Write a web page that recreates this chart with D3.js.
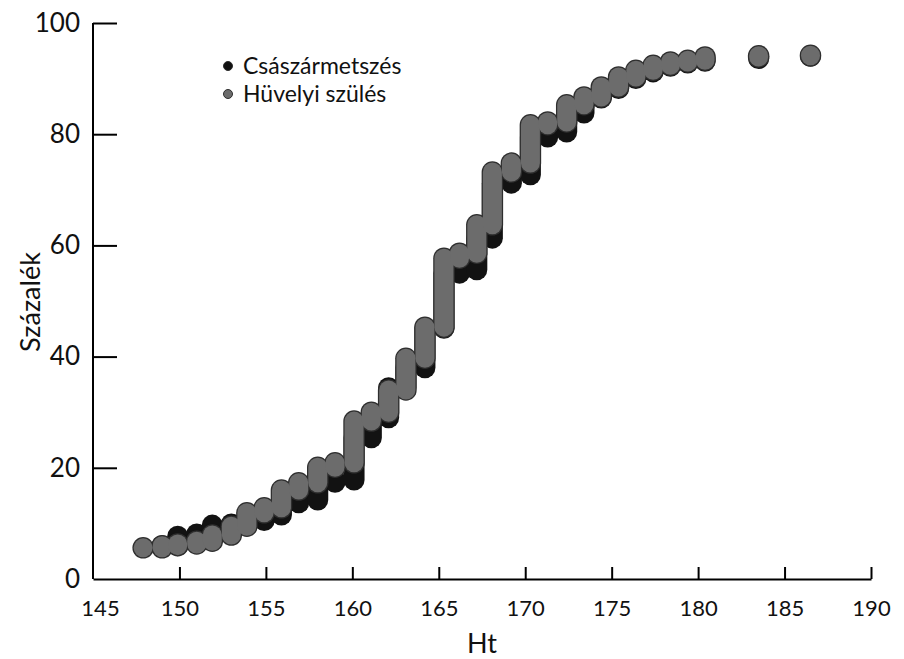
<!DOCTYPE html>
<html>
<head>
<meta charset="utf-8">
<script src="https://cdn.jsdelivr.net/npm/d3@7"></script>
<style>
  body { margin: 0; background: #fff; }
  text { font-family: Lato, "Open Sans", sans-serif; fill: #111; }
</style>
</head>
<body>
<script>
// height (cm) at each step of the cumulative curves
const heights = [147.9, 149, 149.9, 151, 151.9, 153, 153.9, 154.9, 155.9, 156.9,
  158, 159, 160.1, 161.1, 162.1, 163.1, 164.2, 165.3, 166.2, 167.2,
  168.1, 169.2, 170.3, 171.3, 172.4, 173.4, 174.4, 175.4, 176.4, 177.4,
  178.4, 179.4, 180.4, 183.5, 186.5];
// cumulative percent, Császármetszés (black)
const csaszar = [null, 6.0, 7.7, 8.1, 9.7, 9.9, 10.5, 11.5, 13.7, 14.2,
  17.4, 17.8, 25.4, 29.0, 34.4, 38.0, 45.1, 55.0, 55.6, 61.3,
  71.2, 72.7, 79.5, 80.4, 83.8, 86.5, 88.2, 90.0, 91.2, 92.2,
  92.8, 93.1, 93.6, 94.0, 94.1];
// cumulative percent, Hüvelyi szülés (grey)
const huvelyi = [5.6, 6.0, 6.3, 6.8, 7.9, 9.5, 11.9, 12.8, 16.0, 17.3,
  20.1, 20.9, 28.4, 30.0, 34.0, 39.7, 45.3, 57.7, 58.6, 63.7,
  73.2, 74.8, 81.7, 82.2, 85.3, 86.7, 88.5, 90.3, 91.5, 92.4,
  93.0, 93.3, 93.9, 94.1, 94.2];
const xTicks = [145, 150, 155, 160, 165, 170, 175, 180, 185, 190];
const yTicks = [20, 40, 60, 80, 100];
const seriesNames = ["Császármetszés", "Hüvelyi szülés"];

let width = 904, height = 659;
let svg = d3.select("body").append("svg")
            .attr("width", width)
            .attr("height", height);

let x = d3.scaleLinear().domain([145, 190]).range([93, 871]);
let y = d3.scaleLinear().domain([0, 100]).range([579, 23]);

// each step = the run of stacked points from the previous level to this one
function steps(vals) {
  let out = [], prev = null;
  vals.forEach((v, i) => {
    if (v == null) return;
    out.push({ h: heights[i], y0: prev == null ? v : prev, y1: v });
    prev = v;
  });
  return out;
}

function drawSeries(vals, color, w) {
  svg.append("g").selectAll("line").data(steps(vals)).enter()
     .append("line")
     .attr("x1", d => x(d.h)).attr("x2", d => x(d.h))
     .attr("y1", d => y(d.y0)).attr("y2", d => y(d.y1))
     .attr("stroke", color)
     .attr("stroke-width", w)
     .attr("stroke-linecap", "round");
}

drawSeries(csaszar, "#121212", 21);
drawSeries(huvelyi, "#2e2e2e", 21.5);
drawSeries(huvelyi, "#6c6c6c", 19);

// axes
let yAxis = svg.append("g").attr("transform", "translate(93,0)")
  .call(d3.axisLeft(y).tickValues(yTicks).tickSizeInner(-24).tickSizeOuter(0).tickPadding(13));
yAxis.select(".domain").attr("d", "M0," + y(100) + "V" + y(0));
yAxis.selectAll("line").attr("stroke-width", 2);
yAxis.select(".domain").attr("stroke-width", 2);
yAxis.selectAll("text").attr("font-size", 26).attr("font-family", null).attr("fill", "#111");

svg.append("text").attr("x", 80).attr("y", 579).attr("dy", "0.34em")
   .attr("text-anchor", "end").attr("font-size", 26).text("0");

let xAxis = svg.append("g").attr("transform", "translate(0,579)")
  .call(d3.axisBottom(x).tickValues(xTicks).tickSizeInner(-12).tickSizeOuter(0).tickPadding(21));
xAxis.selectAll(".tick line").attr("stroke-width", 2)
  .attr("display", d => d == 145 ? "none" : null);
xAxis.select(".domain").attr("stroke-width", 2);
xAxis.selectAll("text").attr("font-size", 22).attr("font-family", null).attr("fill", "#111")
  .attr("dx", d => d == 145 ? 7 : 0);

svg.append("text").attr("transform", "translate(40,302) rotate(-90)")
   .attr("text-anchor", "middle").attr("font-size", 27).text("Százalék");
svg.append("text").attr("x", 482).attr("y", 653)
   .attr("text-anchor", "middle").attr("font-size", 27).text("Ht");

// legend
let legend = svg.append("g").attr("transform", "translate(228,66)")
  .selectAll(".legend").data(seriesNames).enter().append("g")
  .classed("legend", true)
  .attr("transform", (d, i) => "translate(0," + i * 28 + ")");
legend.append("circle").attr("r", 4.5)
  .attr("fill", (d, i) => i == 0 ? "#111" : "#6c6c6c")
  .attr("stroke", "#2e2e2e").attr("stroke-width", 1);
legend.append("text").attr("x", 15).attr("y", 8).attr("font-size", 23).text(d => d);
</script>
</body>
</html>
